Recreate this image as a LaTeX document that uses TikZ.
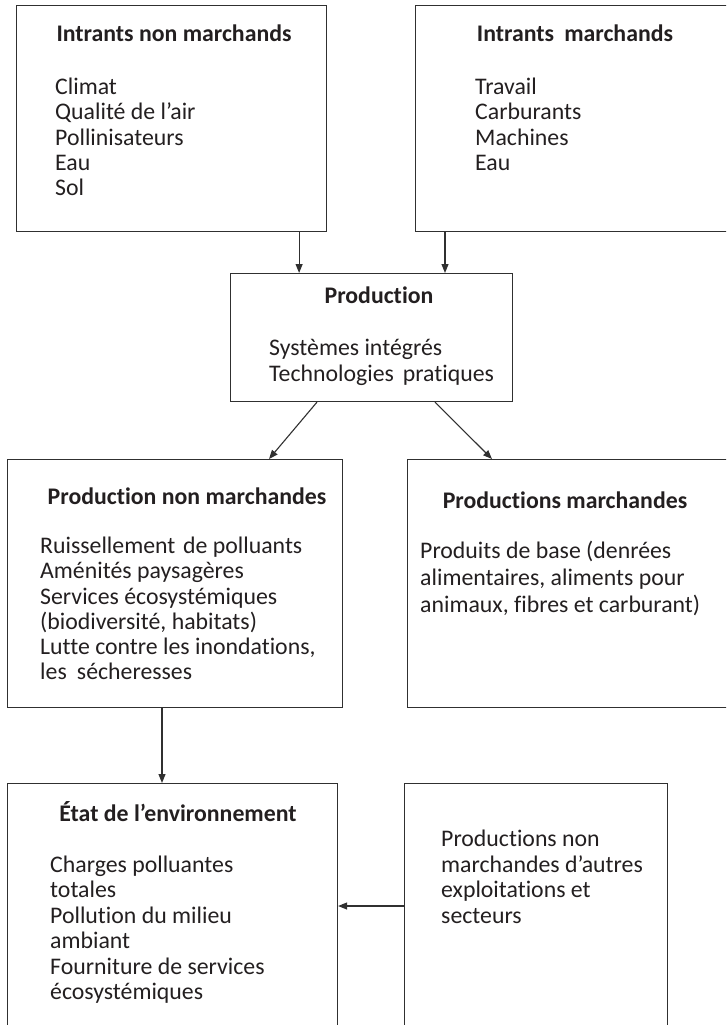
\documentclass[tikz,border=0pt]{standalone}
\usepackage{fontspec}
\setmainfont{Carlito}[RawFeature={-liga;-clig;-dlig;-calt}]
\usetikzlibrary{arrows.meta}
\definecolor{ink}{HTML}{231F20}
\definecolor{edge}{HTML}{303030}
\begin{document}
\begin{tikzpicture}[x=1pt,y=-1pt,
  box/.style={draw=edge,line width=1.1pt,rectangle,anchor=north west,inner sep=0pt},
  txt/.style={anchor=base west,inner sep=0pt,text=ink,font=\fontsize{23.8}{25.3}\selectfont},
  ttl/.style={anchor=base,inner sep=0pt,text=ink,font=\fontsize{23.8}{25.3}\selectfont\bfseries},
  arr/.style={draw=edge,line width=1.1pt,-{Triangle[length=9pt,width=7pt]}}]
\useasboundingbox (0,0) rectangle (726,1025);
\clip (0,0) rectangle (726,1025);
% boxes
\node[box,minimum width=310pt,minimum height=226pt] (b1) at (16,5) {};
\node[box,minimum width=330pt,minimum height=226pt] (b2) at (415,5) {};
\node[box,minimum width=282pt,minimum height=128pt] (prod) at (230,273) {};
\node[box,minimum width=335pt,minimum height=248pt] (pn) at (7,459) {};
\node[box,minimum width=340pt,minimum height=248pt] (pm) at (407,459) {};
\node[box,minimum width=330pt,minimum height=280pt] (etat) at (7,783) {};
\node[box,minimum width=263pt,minimum height=280pt] (autre) at (404,783) {};
% texts box 1
\node[ttl] (t1) at (174,42) {Intrants non marchands};
\node[txt] (t1a) at (55,94) {Climat};
\node[txt] (t1b) at (55,119.5) {Qualité de l’air};
\node[txt] (t1c) at (55,145) {Pollinisateurs};
\node[txt] (t1d) at (55,170) {Eau};
\node[txt] (t1e) at (55,195.5) {Sol};
% texts box 2
\node[ttl] (t2) at (575,42) {Intrants\hspace{0.2em} marchands};
\node[txt] (t2a) at (475,94) {Travail};
\node[txt] (t2b) at (475,119.5) {Carburants};
\node[txt] (t2c) at (475,145) {Machines};
\node[txt] (t2d) at (475,170) {Eau};
% production
\node[ttl] (t3) at (379,303) {Production};
\node[txt] (t3a) at (269,355) {Systèmes intégrés};
\node[txt] (t3b) at (269,381) {Technologies\hspace{0.15em} pratiques};
% production non marchandes
\node[ttl] (t4) at (187,504) {Production non marchandes};
\node[txt] (t4a) at (40,553) {Ruissellement\hspace{0.1em} de polluants};
\node[txt] (t4b) at (40,578.5) {Aménités paysagères};
\node[txt] (t4c) at (40,604) {Services écosystémiques};
\node[txt] (t4d) at (40,629) {(biodiversité, habitats)};
\node[txt] (t4e) at (40,654.5) {Lutte contre les inondations,};
\node[txt] (t4f) at (40,679.5) {les\hspace{0.2em} sécheresses};
% productions marchandes
\node[ttl] (t5) at (565,508) {Productions marchandes};
\node[txt] (t5a) at (420,558) {Produits de base (denrées};
\node[txt] (t5b) at (420,585) {alimentaires, aliments pour};
\node[txt] (t5c) at (420,612) {animaux, fibres et carburant)};
% etat
\node[ttl] (t6) at (178,821) {État de l’environnement};
\node[txt] (t6a) at (50,872) {Charges polluantes};
\node[txt] (t6b) at (50,897.5) {totales};
\node[txt] (t6c) at (50,923) {Pollution du milieu};
\node[txt] (t6d) at (50,948.5) {ambiant};
\node[txt] (t6e) at (50,974) {Fourniture de services};
\node[txt] (t6f) at (50,999.5) {écosystémiques};
% autres
\node[txt] (t7a) at (441,846) {Productions non};
\node[txt] (t7b) at (441,872) {marchandes d’autres};
\node[txt] (t7c) at (441,897.5) {exploitations et};
\node[txt] (t7d) at (441,923) {secteurs};
% connectors
\draw[arr] ([xshift=-28pt]b1.south east) -- ([xshift=-28pt]b1.south east |- prod.north);
\draw[arr] ([xshift=30pt]b2.south west) -- ([xshift=30pt]b2.south west |- prod.north);
\draw[arr] ([xshift=87pt]prod.south west) -- ([xshift=262pt]pn.north west);
\draw[arr] ([xshift=205pt]prod.south west) -- ([xshift=85pt]pm.north west);
\draw[arr] ([xshift=155pt]pn.south west) -- ([xshift=155pt]pn.south west |- etat.north);
\draw[arr] ([yshift=-123pt]autre.north west) -- ([yshift=-123pt]autre.north west -| etat.east);
\end{tikzpicture}
\end{document}
